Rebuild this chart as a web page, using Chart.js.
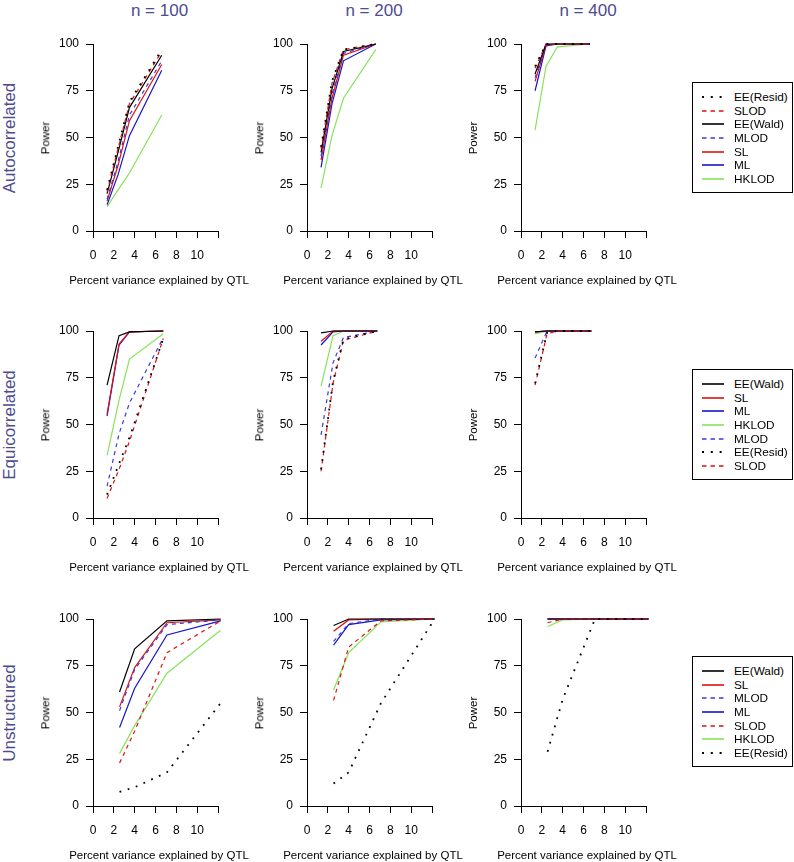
<!DOCTYPE html>
<html>
<head>
<meta charset="utf-8">
<script src="https://cdn.jsdelivr.net/npm/chart.js@4.4.1/dist/chart.umd.min.js"></script>
<style>
  body { margin: 0; background: #fff; font-family: "Liberation Sans", Arial, sans-serif; }
  #page { position: relative; width: 794px; height: 862px; overflow: hidden; }
  .panel { position: absolute; }
  .lbl { position: absolute; white-space: nowrap; line-height: 1; color: #000; transform: translate(-50%, -50%); }
  .rot { transform: translate(-50%, -50%) rotate(-90deg); }
  .head { color: #4c4c8f; font-size: 17px; }
  .axt { font-size: 11.5px; }
  .legend { position: absolute; left: 692px; width: 101px; height: 111px; border: 1px solid #000; box-sizing: border-box; padding-top: 7px; background: #fff; }
  .legend .row { height: 13.7px; display: flex; align-items: center; font-size: 11.8px; }
  .legend svg { margin-left: 9px; margin-right: 10px; }
</style>
</head>
<body>
<div id="page"></div>
<script>
// x values (percent variance explained by QTL) for each covariance structure
const xAuto = [1.35, 2.4, 3.5, 6.6];
const xEqui = [1.35, 2.5, 3.5, 6.75];
const xUnstr = [2.55, 4.0, 7.1, 12.25];

const methods = ["EE(Resid)", "SLOD", "EE(Wald)", "MLOD", "SL", "ML", "HKLOD"];
const sizes = ["n = 100", "n = 200", "n = 400"];
const structures = ["Autocorrelated", "Equicorrelated", "Unstructured"];
const xTicks = [0, 2, 4, 6, 8, 10, 12];
const yTicks = [0, 25, 50, 75, 100];

// power values, one row per method (same order as methods)
const auto100 = [[22, 45, 69, 97], [21, 44, 68, 96], [20, 42, 66, 94], [17, 37, 62, 91], [16, 35, 59, 89], [14, 30, 51, 86], [13, 22, 31, 62]];
const auto200 = [[45, 80, 97, 100], [44, 79, 97, 100], [42, 76, 96, 100], [40, 73, 95, 100], [38, 71, 94, 100], [34, 68, 91, 100], [23, 51, 71, 97]];
const auto400 = [[88, 100, 100, 100], [87, 100, 100, 100], [84, 100, 100, 100], [82, 99.5, 100, 100], [80, 99.5, 100, 100], [75, 99, 100, 100], [54, 88, 98.5, 100]];

const equi100 = [[12.5, 29, 43, 96], [10.5, 26, 41, 96], [71, 97.5, 99.5, 100], [17, 45, 61.5, 96.5], [55.5, 93, 99.5, 100], [54.5, 92.5, 99.5, 100], [33.5, 63, 85, 98.5]];
const equi200 = [[26, 73, 95.5, 100], [25, 72, 95, 100], [99, 100, 100, 100], [44.5, 83, 96.5, 100], [94.5, 100, 100, 100], [92.5, 99.5, 100, 100], [70.5, 97.5, 100, 100]];
const equi400 = [[72, 99, 100, 100], [71, 98.5, 100, 100], [99.5, 100, 100, 100], [85.5, 100, 100, 100], [99.5, 100, 100, 100], [99.5, 100, 100, 100], [98.5, 100, 100, 100]];

const unstr100 = [[7.5, 10, 18, 55], [23, 40, 82, 99], [61, 84, 99, 100], [51, 73, 97, 99.5], [53, 74, 98, 99.5], [42, 63, 91.5, 99], [28, 43, 71, 94]];
const unstr200 = [[12, 18, 55, 100], [56.5, 85, 99, 100], [96.5, 100, 100, 100], [88, 97.5, 100, 100], [93.5, 99.5, 100, 100], [86, 97, 99.5, 100], [62, 82, 98.5, 100]];
const unstr400 = [[29, 57, 100, 100], [98, 100, 100, 100], [100, 100, 100, 100], [100, 100, 100, 100], [100, 100, 100, 100], [100, 100, 100, 100], [96, 99.5, 100, 100]];

// legend order differs per row
const legendAuto = ["EE(Resid)", "SLOD", "EE(Wald)", "MLOD", "SL", "ML", "HKLOD"];
const legendEqui = ["EE(Wald)", "SL", "ML", "HKLOD", "MLOD", "EE(Resid)", "SLOD"];
const legendUnstr = ["EE(Wald)", "SL", "MLOD", "ML", "SLOD", "HKLOD", "EE(Resid)"];

// line styles
const RED = "#dd1111", BLUE = "#1515cc", GREEN = "#86e35a";
const styles = {
  "EE(Resid)": { color: "#000", type: "dot" },
  "SLOD": { color: RED, type: "dash" },
  "EE(Wald)": { color: "#000", type: "solid" },
  "MLOD": { color: "#3a3ae0", type: "dash" },
  "SL": { color: RED, type: "solid" },
  "ML": { color: BLUE, type: "solid" },
  "HKLOD": { color: GREEN, type: "solid" }
};

const rows = [
  { xs: xAuto, panels: [auto100, auto200, auto400], legend: legendAuto },
  { xs: xEqui, panels: [equi100, equi200, equi400], legend: legendEqui },
  { xs: xUnstr, panels: [unstr100, unstr200, unstr400], legend: legendUnstr }
];

// layout
const colX = [93, 307, 521];
const rowY = [44, 331, 619];
const legendTop = [82, 369, 656];
const PAD_L = 60, PAD_T = 10, PAD_R = 15, PAD_B = 60, PLOT_W = 125, PLOT_H = 187;

Chart.defaults.font.family = "'Liberation Sans', Arial, sans-serif";
Chart.defaults.color = "#000";

const page = document.getElementById("page");

function addLabel(text, x, y, cls) {
  const d = document.createElement("div");
  d.className = "lbl " + cls;
  d.textContent = text;
  d.style.left = x + "px";
  d.style.top = y + "px";
  page.appendChild(d);
}

function lineStyle(m) {
  const s = styles[m];
  if (s.type === "dot") return { borderWidth: 1.8, borderDash: [1.8, 6.7] };
  if (s.type === "dash") return { borderWidth: 1.2, borderDash: [4, 4] };
  return { borderWidth: 1.2, borderDash: [] };
}

function makePanel(left, top, xs, series) {
  const canvas = document.createElement("canvas");
  canvas.className = "panel";
  canvas.width = PAD_L + PLOT_W + PAD_R;
  canvas.height = PAD_T + PLOT_H + PAD_B;
  canvas.style.left = (left - PAD_L) + "px";
  canvas.style.top = (top - PAD_T) + "px";
  page.appendChild(canvas);

  const datasets = methods.map((m, i) => Object.assign({
    label: m,
    data: xs.map((x, j) => ({ x: x, y: series[i][j] })),
    borderColor: styles[m].color,
    borderCapStyle: "butt",
    pointRadius: 0,
    tension: 0,
    fill: false,
    clip: false
  }, lineStyle(m)));

  new Chart(canvas, {
    type: "line",
    data: { datasets: datasets },
    options: {
      responsive: false,
      animation: false,
      devicePixelRatio: 1,
      layout: { padding: { left: 0, top: PAD_T, right: PAD_R, bottom: 0 } },
      plugins: { legend: { display: false }, tooltip: { enabled: false } },
      scales: {
        x: {
          type: "linear",
          min: 0,
          max: 12,
          afterBuildTicks: (s) => { s.ticks = xTicks.map((v) => ({ value: v })); },
          afterFit: (s) => { s.height = PAD_B; s.paddingLeft = 0; s.paddingRight = 0; },
          ticks: {
            callback: (v) => (v === 12 ? "" : v),
            font: { size: 12 },
            padding: 10,
            maxRotation: 0,
            autoSkip: false
          },
          grid: { drawOnChartArea: false, drawTicks: true, tickLength: 7, color: "#000", lineWidth: 1 },
          border: { display: true, color: "#000", width: 1 }
        },
        y: {
          min: 0,
          max: 100,
          afterBuildTicks: (s) => { s.ticks = yTicks.map((v) => ({ value: v })); },
          afterFit: (s) => { s.width = PAD_L; s.paddingTop = 0; s.paddingBottom = 0; },
          ticks: { font: { size: 12 }, padding: 7 },
          grid: { drawOnChartArea: false, drawTicks: true, tickLength: 7, color: "#000", lineWidth: 1 },
          border: { display: true, color: "#000", width: 1 }
        }
      }
    }
  });
}

function sampleSvg(m) {
  const s = styles[m];
  let dash = "", w = 1.6;
  if (s.type === "dot") { dash = 'stroke-dasharray="2 6.8"'; w = 2; }
  if (s.type === "dash") { dash = 'stroke-dasharray="4.5 4"'; w = 1.4; }
  return `<svg width="22" height="6"><line x1="0" y1="3" x2="22" y2="3" stroke="${s.color}" stroke-width="${w}" ${dash}/></svg>`;
}

function makeLegend(top, order) {
  const box = document.createElement("div");
  box.className = "legend";
  box.style.top = top + "px";
  box.innerHTML = order.map((m) => `<div class="row">${sampleSvg(m)}<span>${m}</span></div>`).join("");
  page.appendChild(box);
}

// column headings
const headX = [159.5, 374, 588];
sizes.forEach((t, c) => addLabel(t, headX[c], 9.5, "head"));

rows.forEach((row, r) => {
  const top = rowY[r];
  addLabel(structures[r], 8.5, top + PLOT_H / 2 + 0.5, "head rot");
  row.panels.forEach((series, c) => {
    makePanel(colX[c], top, row.xs, series);
    addLabel("Power", colX[c] - 47.5, top + PLOT_H / 2, "axt rot");
    addLabel("Percent variance explained by QTL", colX[c] + 66, top + PLOT_H + 50, "axt");
  });
  makeLegend(legendTop[r], row.legend);
});
</script>
</body>
</html>
